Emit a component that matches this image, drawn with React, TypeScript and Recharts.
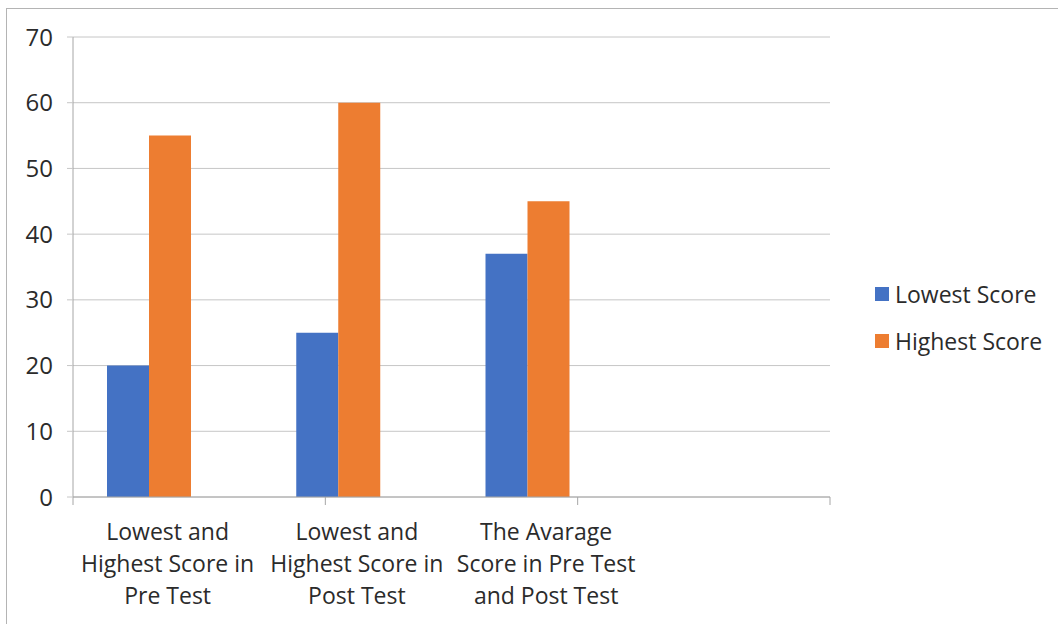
import { Bar, BarChart, CartesianGrid, XAxis, YAxis } from "recharts";

const categories = [
  "Lowest and\nHighest Score in\nPre Test",
  "Lowest and\nHighest Score in\nPost Test",
  "The Avarage\nScore in Pre Test\nand Post Test",
  "",
];
const lowestScore: (number | null)[] = [20, 25, 37, null];
const highestScore: (number | null)[] = [55, 60, 45, null];
// empty slot that Excel reserves to the right of the two bars
const spacerSeries: (number | null)[] = [null, null, null, null];
const yTicks = [0, 10, 20, 30, 40, 50, 60, 70];
const boundaryTicks = [0, 1, 2, 3, 4];
const seriesNames = ["Lowest Score", "Highest Score"];
const seriesColors = ["#4472C4", "#ED7D31"];

const FONT = "'Open Sans', sans-serif";
const TEXT = "#2b2b2b";
const AXIS = "#a6a6a6";
const GRID = "#c6c6c6";

const data = categories.map((name, i) => ({
  name,
  lowest: lowestScore[i],
  highest: highestScore[i],
  spacer: spacerSeries[i],
}));

function CategoryTick(props: any) {
  const { x, y, payload } = props;
  const lines = String(payload.value).split("\n");
  return (
    <text x={x} y={y} textAnchor="middle" fill={TEXT} fontSize={23} fontFamily={FONT}>
      {lines.map((l, i) => (
        <tspan key={i} x={x} dy={i === 0 ? 42 : 32}>
          {l}
        </tspan>
      ))}
    </text>
  );
}

export default function App() {
  return (
    <div style={{ position: "absolute", left: 0, top: 0, width: 1058, height: 624, background: "#fff", overflow: "hidden" }}>
      <div
        style={{
          position: "absolute",
          left: 6,
          top: 8,
          width: 1100,
          height: 700,
          borderLeft: "1px solid #b4b4b4",
          borderTop: "1px solid #b4b4b4",
        }}
      />
      <BarChart
        width={1058}
        height={624}
        data={data}
        margin={{ top: 37, right: 228, bottom: 26, left: 0 }}
        barSize={42}
        barGap={0}
        style={{ position: "absolute", left: 0, top: 0 }}
      >
        <CartesianGrid horizontal vertical={false} stroke={GRID} strokeWidth={1} xAxisId="b" />
        <XAxis
          xAxisId="b"
          type="number"
          domain={[0, 4]}
          ticks={boundaryTicks}
          tick={() => <g />}
          tickSize={8}
          height={1}
          axisLine={{ stroke: AXIS }}
          tickLine={{ stroke: AXIS }}
        />
        <XAxis
          xAxisId="c"
          dataKey="name"
          type="category"
          interval={0}
          axisLine={false}
          tickLine={false}
          tickSize={0}
          tickMargin={0}
          height={100}
          tick={<CategoryTick />}
        />
        <YAxis
          domain={[0, 70]}
          ticks={yTicks}
          width={73}
          tickSize={6}
          tickMargin={14}
          axisLine={{ stroke: AXIS }}
          tickLine={{ stroke: GRID }}
          tick={{ fill: TEXT, fontSize: 24, fontFamily: FONT }}
        />
        <Bar xAxisId="c" dataKey="lowest" name={seriesNames[0]} fill={seriesColors[0]} isAnimationActive={false} />
        <Bar xAxisId="c" dataKey="highest" name={seriesNames[1]} fill={seriesColors[1]} isAnimationActive={false} />
        <Bar xAxisId="c" dataKey="spacer" barSize={37} fill="none" legendType="none" isAnimationActive={false} />
      </BarChart>
      <div style={{ position: "absolute", left: 875, top: 270, fontFamily: FONT, fontSize: 23, color: TEXT }}>
        {seriesNames.map((n, i) => (
          <div key={n} style={{ display: "flex", alignItems: "center", height: 47 }}>
            <span style={{ width: 14, height: 14, background: seriesColors[i], marginRight: 6, display: "inline-block" }} />
            <span>{n}</span>
          </div>
        ))}
      </div>
    </div>
  );
}
